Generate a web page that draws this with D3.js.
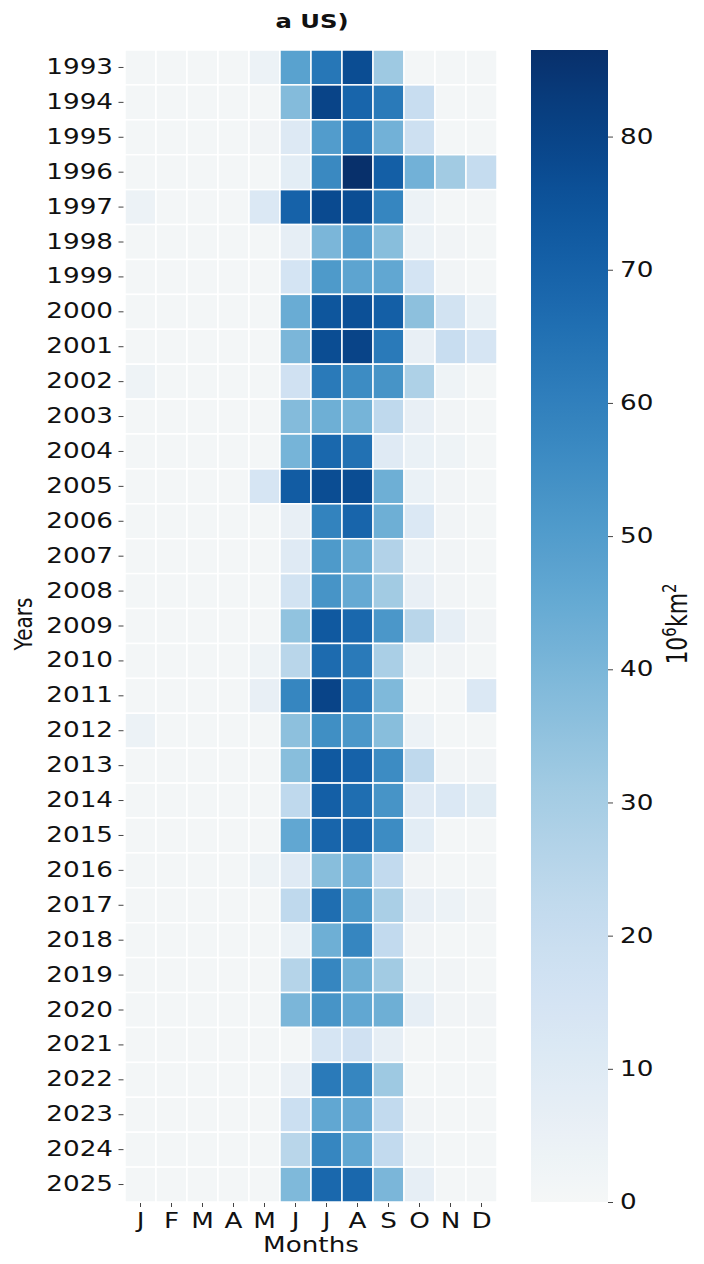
<!DOCTYPE html>
<html>
<head>
<meta charset="utf-8">
<script src="https://cdn.jsdelivr.net/npm/d3@7"></script>
<style>
  body { margin: 0; background: #fff; }
  text { font-family: "DejaVu Sans", sans-serif; fill: #111; }
</style>
</head>
<body>
<div id="chart"></div>
<script>
// months along x, years down y
var monthLabels = ['J','F','M','A','M','J','J','A','S','O','N','D'];
var years = d3.range(1993, 2026);

// monthly area, 10^6 km2, one row per year (Jan..Dec)
var areaByYear = [
  [1,1,1,1,4,48,63,77,32,1,1,1],     // 1993
  [1,1,1,1,1,38,80,69,62,20,1,1],    // 1994
  [1,1,1,1,2,11,50,62,42,18,1,1],    // 1995
  [1,1,1,1,1,8,57,86.5,71,42,31,21], // 1996
  [4,1,1,1,12,70,78,77,58,4,1,1],    // 1997
  [1,1,1,1,1,7,40,50,37,4,2,1],      // 1998
  [1,1,1,1,1,15,51,47,46,15,2,1],    // 1999
  [1,1,1,1,1,44,74,76,71,36,16,5],   // 2000
  [1,1,1,1,1,40,77,80,62,6,20,14],   // 2001
  [3,1,1,1,1,17,62,56,53,28,3,1],    // 2002
  [1,1,1,1,1,38,43,41,23,6,2,1],     // 2003
  [1,1,1,1,1,41,68,65,10,5,3,1],     // 2004
  [1,1,1,1,14,72,77,77,43,5,2,1],    // 2005
  [1,1,1,1,1,6,59,69,43,12,2,1],     // 2006
  [1,1,1,1,1,10,51,44,27,4,2,1],     // 2007
  [1,1,1,1,1,16,53,45,31,6,2,1],     // 2008
  [1,1,1,1,1,35,73,68,52,25,7,2],    // 2009
  [1,1,1,1,3,25,67,62,29,3,2,1],     // 2010
  [1,1,1,1,6,58,80,62,39,1,1,12],    // 2011
  [4,1,1,1,1,36,55,52,37,4,1,1],     // 2012
  [1,1,1,1,1,37,73,70,56,23,2,2],    // 2013
  [1,1,1,1,1,23,71,66,53,10,12,9],   // 2014
  [1,1,1,1,1,46,69,69,56,8,1,1],     // 2015
  [1,1,1,1,3,10,37,42,22,2,1,1],     // 2016
  [1,1,1,1,1,23,66,51,29,6,4,2],     // 2017
  [1,1,1,1,1,5,43,58,22,2,1,1],      // 2018
  [1,1,1,1,1,26,58,43,31,3,2,1],     // 2019
  [1,1,1,1,1,40,53,46,43,7,2,2],     // 2020
  [1,1,1,1,1,1,14,17,7,1,1,1],       // 2021
  [1,1,1,1,1,6,62,58,32,1,1,1],      // 2022
  [1,1,1,1,1,19,46,45,22,2,1,1],     // 2023
  [1,1,1,1,1,25,58,46,22,3,1,1],     // 2024
  [1,1,1,1,1,39,68,68,40,7,1,1]      // 2025
];
var colorbarTicks = [0,10,20,30,40,50,60,70,80];
var vMax = 86.5;

// the picture is stretched sideways, so text gets a horizontal scale
var sx = 1.28;

var width = 704, height = 1264;
var grid = {left: 125, right: 497, top: 50, bottom: 1202};
var cbar = {left: 531, right: 608};

var svg = d3.select('#chart').append('svg')
    .attr('width', width)
    .attr('height', height);

// grayish white into Blues
var low = d3.interpolateRgb('#f5f7f7', d3.interpolateBlues(0.2));
function color(v) {
  var t = Math.max(0, Math.min(1, v / vMax));
  return t < 0.2 ? low(t / 0.2) : d3.interpolateBlues(t);
}

var xscale = d3.scaleBand()
    .domain(d3.range(12))
    .range([grid.left, grid.right]);

var yscale = d3.scaleBand()
    .domain(years)
    .range([grid.top, grid.bottom]);

var cells = [];
areaByYear.forEach(function (row, i) {
  row.forEach(function (v, m) {
    cells.push({year: years[i], month: m, value: v});
  });
});

svg.append('g').selectAll('rect')
    .data(cells)
  .enter().append('rect')
    .attr('x', function (d) { return xscale(d.month); })
    .attr('y', function (d) { return yscale(d.year); })
    .attr('width', xscale.bandwidth())
    .attr('height', yscale.bandwidth())
    .attr('fill', function (d) { return color(d.value); })
    .attr('stroke', '#fff')
    .attr('stroke-width', 1.5);

// y axis
var yAxis = svg.append('g')
    .attr('transform', 'translate(' + grid.left + ',0)')
    .call(d3.axisLeft(yscale).tickSize(6).tickPadding(6));
yAxis.select('.domain').remove();
yAxis.selectAll('.tick line').attr('stroke', '#444').attr('x1', -1.5).attr('x2', -6.5);
yAxis.selectAll('.tick text')
    .attr('x', -12 / sx)
    .attr('transform', 'scale(' + sx + ',1)')
    .style('font-family', '"DejaVu Sans", sans-serif')
    .style('font-size', '20.5px')
    .attr('fill', '#111');

// x axis
var xAxis = svg.append('g')
    .attr('transform', 'translate(0,' + grid.bottom + ')')
    .call(d3.axisBottom(xscale).tickSize(5).tickPadding(6)
      .tickFormat(function (i) { return monthLabels[i]; }));
xAxis.select('.domain').remove();
xAxis.selectAll('.tick line').attr('stroke', '#444').attr('y1', 1);
xAxis.selectAll('.tick text')
    .attr('y', 11)
    .attr('transform', 'scale(' + sx + ',1)')
    .style('font-family', '"DejaVu Sans", sans-serif')
    .style('font-size', '20.5px')
    .attr('fill', '#111');

// colorbar
var cscale = d3.scaleLinear()
    .domain([0, vMax])
    .range([grid.bottom, grid.top]);

var grad = svg.append('defs').append('linearGradient')
    .attr('id', 'cbar-grad')
    .attr('x1', 0).attr('y1', 1).attr('x2', 0).attr('y2', 0);
grad.selectAll('stop')
    .data(d3.range(0, 1.0001, 0.02))
  .enter().append('stop')
    .attr('offset', function (t) { return t; })
    .attr('stop-color', function (t) { return color(t * vMax); });

svg.append('rect')
    .attr('x', cbar.left)
    .attr('y', cscale(vMax))
    .attr('width', cbar.right - cbar.left)
    .attr('height', cscale(0) - cscale(vMax))
    .attr('fill', 'url(#cbar-grad)');

var cAxis = svg.append('g')
    .attr('transform', 'translate(' + cbar.right + ',0)')
    .call(d3.axisRight(cscale).tickValues(colorbarTicks).tickSize(5).tickPadding(7));
cAxis.select('.domain').remove();
cAxis.selectAll('.tick line').attr('stroke', '#444');
cAxis.selectAll('.tick text')
    .attr('x', 12 / sx)
    .attr('transform', 'scale(' + sx + ',1)')
    .style('font-family', '"DejaVu Sans", sans-serif')
    .style('font-size', '20.5px')
    .attr('fill', '#111');

// labels
svg.append('text')
    .attr('transform', 'translate(312,28) scale(' + sx + ',1)')
    .attr('text-anchor', 'middle')
    .style('font-size', '19px')
    .style('font-weight', 'bold')
    .text('a US)');

svg.append('text')
    .attr('transform', 'translate(311,1252) scale(' + sx + ',1)')
    .attr('text-anchor', 'middle')
    .style('font-size', '20.5px')
    .text('Months');

svg.append('text')
    .attr('transform', 'translate(32,624) scale(' + sx + ',1) rotate(-90)')
    .attr('text-anchor', 'middle')
    .style('font-size', '20px')
    .text('Years');

var unit = svg.append('text')
    .attr('transform', 'translate(687,624) scale(' + sx + ',1) rotate(-90)')
    .attr('text-anchor', 'middle')
    .style('font-size', '22px');
unit.append('tspan').text('10');
unit.append('tspan').attr('baseline-shift', 'super').style('font-size', '15px').text('6');
unit.append('tspan').text('km');
unit.append('tspan').attr('baseline-shift', 'super').style('font-size', '15px').text('2');
</script>
</body>
</html>
